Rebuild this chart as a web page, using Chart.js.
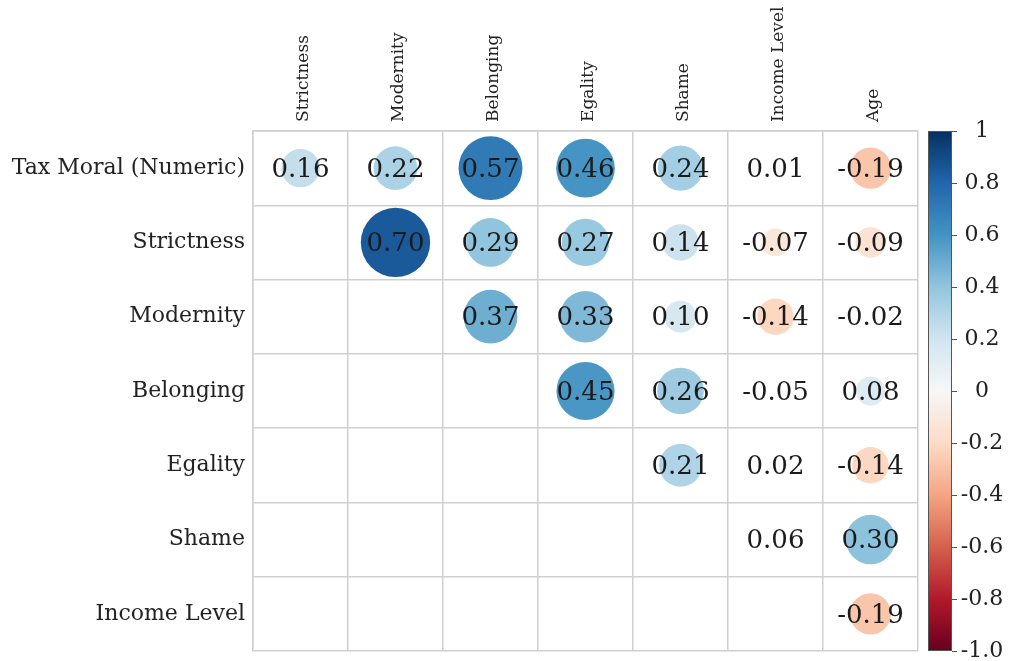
<!DOCTYPE html>
<html>
<head>
<meta charset="utf-8">
<script src="https://cdn.jsdelivr.net/npm/chart.js@4.4.1/dist/chart.umd.min.js"></script>
<style>
  html, body { margin: 0; padding: 0; background: #fff; }
  #wrap { width: 1016px; height: 661px; }
</style>
</head>
<body>
<div id="wrap"><canvas id="corr"></canvas></div>
<script>
// correlation matrix, upper triangle only (null = empty cell)
const rowLabels = ["Tax Moral (Numeric)", "Strictness", "Modernity", "Belonging", "Egality", "Shame", "Income Level"];
const colLabels = ["Strictness", "Modernity", "Belonging", "Egality", "Shame", "Income Level", "Age"];
const corrValues = [
  [0.16, 0.22, 0.57, 0.46, 0.24, 0.01, -0.19],
  [null, 0.70, 0.29, 0.27, 0.14, -0.07, -0.09],
  [null, null, 0.37, 0.33, 0.10, -0.14, -0.02],
  [null, null, null, 0.45, 0.26, -0.05, 0.08],
  [null, null, null, null, 0.21, 0.02, -0.14],
  [null, null, null, null, null, 0.06, 0.30],
  [null, null, null, null, null, null, -0.19],
];
const colorbarTicks = [1, 0.8, 0.6, 0.4, 0.2, 0, -0.2, -0.4, -0.6, -0.8, -1.0];

// RdBu colormap
const rdbu = [
  [-1.0, [103, 0, 31]],
  [-0.8, [178, 24, 43]],
  [-0.6, [214, 96, 77]],
  [-0.4, [244, 165, 130]],
  [-0.2, [253, 219, 199]],
  [0.0, [247, 247, 247]],
  [0.2, [209, 229, 240]],
  [0.4, [146, 197, 222]],
  [0.6, [67, 147, 195]],
  [0.8, [33, 102, 172]],
  [1.0, [5, 48, 97]],
];
function corrColor(v) {
  v = Math.max(-1, Math.min(1, v));
  for (let i = 0; i < rdbu.length - 1; i++) {
    const [a, ca] = rdbu[i];
    const [b, cb] = rdbu[i + 1];
    if (v >= a && v <= b) {
      const t = (v - a) / (b - a);
      const c = ca.map((x, k) => Math.round(x + (cb[k] - x) * t));
      return `rgb(${c[0]},${c[1]},${c[2]})`;
    }
  }
  return "rgb(247,247,247)";
}
// circles in the picture read a bit stronger than the bar
function circleColor(v) {
  const s = v < 0 ? -1 : 1;
  return corrColor(s * 1.15 * Math.pow(Math.abs(v), 0.85));
}

const points = [];
corrValues.forEach((row, i) => {
  row.forEach((v, j) => {
    if (v !== null) points.push({ x: colLabels[j], y: rowLabels[i], v: v });
  });
});

const serif = "'DejaVu Serif', 'Liberation Serif', serif";

// cell numbers + colour bar
const corrPlugin = {
  id: "corrExtras",
  afterDatasetsDraw(chart) {
    const ctx = chart.ctx;
    const meta = chart.getDatasetMeta(0);
    ctx.save();
    ctx.fillStyle = "#1b1b1b";
    ctx.font = "26px " + serif;
    ctx.textAlign = "center";
    ctx.textBaseline = "middle";
    meta.data.forEach((el, k) => {
      ctx.fillText(points[k].v.toFixed(2), el.x, el.y + 2);
    });
    ctx.restore();
  },
  afterDraw(chart) {
    const ctx = chart.ctx;
    const s = chart.scales.cbar;
    const area = chart.chartArea;
    const x0 = area.right + 10;
    const w = 24;
    const yTop = s.getPixelForValue(1);
    const yBot = s.getPixelForValue(-1);
    const grad = ctx.createLinearGradient(0, yTop, 0, yBot);
    rdbu.forEach(([v, c]) => {
      grad.addColorStop((1 - v) / 2, `rgb(${c[0]},${c[1]},${c[2]})`);
    });
    ctx.save();
    ctx.fillStyle = grad;
    ctx.fillRect(x0, yTop, w, yBot - yTop);
    ctx.strokeStyle = "#555";
    ctx.lineWidth = 1;
    ctx.strokeRect(x0 + 0.5, yTop + 0.5, w - 1, yBot - yTop - 1);
    ctx.font = "22px " + serif;
    ctx.fillStyle = "#222";
    ctx.textAlign = "center";
    ctx.textBaseline = "middle";
    colorbarTicks.forEach((v) => {
      const y = s.getPixelForValue(v);
      ctx.beginPath();
      ctx.moveTo(x0 + w, Math.round(y) + 0.5);
      ctx.lineTo(x0 + w + 5, Math.round(y) + 0.5);
      ctx.stroke();
      let txt = v === -1 ? "-1.0" : String(Math.round(v * 10) / 10);
      ctx.fillText(txt, x0 + w + 30, y);
    });
    ctx.restore();
  },
};

new Chart(document.getElementById("corr"), {
  type: "bubble",
  data: {
    datasets: [
      {
        data: points,
        borderWidth: 0,
        backgroundColor: (c) => circleColor(c.raw ? c.raw.v : 0),
        radius: (c) => {
          const v = c.raw ? Math.abs(c.raw.v) : 0;
          return v < 0.065 ? 0 : 40 * Math.pow(v, 0.4);
        },
        hoverRadius: 0,
      },
    ],
  },
  options: {
    responsive: true,
    maintainAspectRatio: false,
    animation: false,
    layout: { autoPadding: false, padding: { bottom: 10 } },
    plugins: {
      legend: { display: false },
      tooltip: { enabled: false },
    },
    scales: {
      x: {
        type: "category",
        labels: colLabels,
        position: "top",
        offset: true,
        grid: { offset: true, color: "#cfcfcf", lineWidth: 1.5, drawTicks: false },
        border: { color: "#cfcfcf", width: 1.5 },
        ticks: {
          minRotation: 90,
          maxRotation: 90,
          padding: 9,
          labelOffset: 23,
          color: "#222",
          font: { family: serif, size: 17 },
        },
        afterFit: (sc) => {
          sc.height = 131;
          sc.paddingLeft = 0;
          sc.paddingRight = 0;
        },
      },
      y: {
        type: "category",
        labels: rowLabels,
        position: "left",
        offset: true,
        grid: { offset: true, color: "#cfcfcf", lineWidth: 1.5, drawTicks: false },
        border: { color: "#cfcfcf", width: 1.5 },
        ticks: {
          padding: 8,
          color: "#222",
          font: { family: serif, size: 22 },
        },
        afterFit: (sc) => {
          sc.width = 253;
          sc.paddingTop = 0;
          sc.paddingBottom = 0;
        },
      },
      cbar: {
        type: "linear",
        position: "right",
        min: -1,
        max: 1,
        grid: { display: false, drawTicks: false },
        border: { display: false },
        ticks: { display: false, stepSize: 0.2 },
        afterFit: (sc) => {
          sc.width = 98;
          sc.paddingTop = 0;
          sc.paddingBottom = 0;
        },
      },
    },
  },
  plugins: [corrPlugin],
});
</script>
</body>
</html>
